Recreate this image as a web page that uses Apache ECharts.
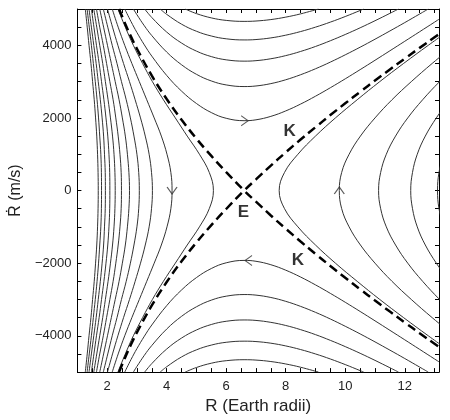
<!DOCTYPE html>
<html>
<head>
<meta charset="utf-8">
<script src="https://cdn.jsdelivr.net/npm/echarts@6/dist/echarts.min.js"></script>
<style>
  html, body { margin: 0; padding: 0; background: #fff; }
  #chart { width: 450px; height: 420px; }
</style>
</head>
<body>
<div id="chart"></div>
<script>
// Rdot levels (m/s) at which the side curves were read
var vLevels = [0, 500, 1000, 1500, 2000, 2500, 3000, 3500, 4000, 4500, 5000];

// curves left of E: R (Earth radii) at each vLevel, upper half (plot is mirror-symmetric in Rdot)
var leftCurves = [
  [5.57, 5.43, 5.10, 4.69, 4.29, 3.89, 3.52, 3.19, 2.88, 2.61, 2.36],
  [4.18, 4.14, 4.01, 3.82, 3.58, 3.33, 3.08, 2.83, 2.59, 2.37, 2.17],
  [3.52, 3.49, 3.41, 3.28, 3.12, 2.94, 2.75, 2.55, 2.36, 2.18, 2.01],
  [3.08, 3.06, 3.00, 2.90, 2.78, 2.64, 2.48, 2.33, 2.17, 2.02, 1.87],
  [2.75, 2.73, 2.68, 2.61, 2.51, 2.40, 2.27, 2.14, 2.01, 1.88, 1.75],
  [2.48, 2.47, 2.43, 2.37, 2.29, 2.20, 2.09, 1.98, 1.87, 1.75, 1.64],
  [2.27, 2.26, 2.23, 2.18, 2.11, 2.03, 1.94, 1.85, 1.75, 1.65, 1.55],
  [2.09, 2.085, 2.06, 2.02, 1.96, 1.89, 1.81, 1.73, 1.64, 1.555, 1.47],
  [1.94, 1.935, 1.91, 1.88, 1.83, 1.77, 1.70, 1.63, 1.55, 1.47, 1.39],
  [1.81, 1.806, 1.787, 1.75, 1.71, 1.66, 1.60, 1.535, 1.47, 1.398, 1.326],
  [1.70, 1.694, 1.677, 1.65, 1.61, 1.565, 1.51, 1.455, 1.39, 1.33, 1.265]
];

// curves right of E, same layout (runs past the right edge, gets clipped)
var rightCurves = [
  [7.78, 7.96, 8.41, 9.0, 9.67, 10.40, 11.16, 11.96, 12.79, 13.64],
  [9.8, 9.88, 10.13, 10.51, 11.0, 11.57, 12.22, 12.92, 13.66],
  [11.12, 11.19, 11.38, 11.69, 12.10, 12.60, 13.17, 13.8],
  [12.2, 12.26, 12.42, 12.69, 13.06, 13.5],
  [13.1, 13.15, 13.3]
];

// curves above E as [R, Rdot]; the ones below are their mirror
var topCurves = [
  [[2.59,5000],[2.8,4656],[3.0,4353],[3.25,4011],[3.5,3702],[4.0,3170],[4.5,2738],[5.0,2397],[5.5,2147],[6.0,1990],[6.6,1924],[7.0,1948],[7.5,2043],[8.0,2193],[8.5,2382],[9.0,2598],[9.5,2832],[10,3077],[10.5,3330],[11,3588],[11.5,3849],[12,4111],[12.5,4374],[13,4638],[13.15,4717]],
  [[2.88,5000],[3.0,4843],[3.25,4537],[3.5,4267],[4.0,3814],[4.5,3464],[5.0,3201],[5.5,3018],[6.0,2909],[6.6,2864],[7.0,2880],[7.5,2945],[8.0,3051],[8.5,3190],[9.0,3354],[9.5,3538],[10,3738],[10.5,3948],[11,4168],[11.5,4395],[12,4626],[12.5,4862],[12.79,5000]],
  [[3.26,5000],[3.5,4765],[4.0,4365],[4.5,4062],[5.0,3840],[5.5,3689],[6.0,3600],[6.6,3564],[7.0,3577],[7.5,3630],[8.0,3716],[8.5,3831],[9.0,3968],[9.5,4126],[10,4298],[10.5,4482],[11,4677],[11.5,4880],[11.79,5000]],
  [[3.78,5000],[4.0,4853],[4.5,4582],[5.0,4387],[5.5,4256],[6.0,4179],[6.6,4148],[7.0,4159],[7.5,4204],[8.0,4279],[8.5,4379],[9.0,4500],[9.5,4639],[10,4793],[10.5,4959],[10.62,5000]],
  [[4.62,5000],[5.0,4873],[5.5,4755],[6.0,4686],[6.6,4659],[7.0,4669],[7.5,4709],[8.0,4776],[8.5,4866],[9.1,5000]]
];

// separatrix K through E (top-left to bottom-right); the other K is its mirror
var separatrix = [[2.40,5000],[2.6,4602],[2.8,4240],[3.0,3905],[3.5,3163],[4.0,2520],[4.5,1948],[5.0,1430],[5.5,953],[6.0,508],[6.6,0],[7.0,-307],[7.5,-687],[8.0,-1052],[8.5,-1404],[9.0,-1745],[9.5,-2078],[10,-2402],[10.5,-2718],[11,-3029],[11.5,-3334],[12,-3633],[12.5,-3929],[13,-4220],[13.15,-4306]];

// flow arrows: [R, Rdot, rotation in degrees]
var arrows = [[6.62, 1924, 0], [6.75, -1926, 180], [4.18, 0, -90], [9.8, 0, 90]];

var labels = [
  { name: 'K', value: [8.13, 1620] },
  { name: 'K', value: [8.41, -1920] },
  { name: 'E', value: [6.58, -590] }
];

function sideCurve(rs) {
  var pts = [];
  for (var i = rs.length - 1; i > 0; i--) pts.push([rs[i], -vLevels[i]]);
  for (var j = 0; j < rs.length; j++) pts.push([rs[j], vLevels[j]]);
  return pts;
}
function mirror(pts) {
  return pts.map(function (p) { return [p[0], -p[1]]; });
}

var series = [];
function addCurve(pts) {
  series.push({
    type: 'line', data: pts, smooth: 0.4, symbol: 'none', silent: true,
    lineStyle: { color: '#333', width: 1 }
  });
}
leftCurves.forEach(function (c) { addCurve(sideCurve(c)); });
rightCurves.forEach(function (c) { addCurve(sideCurve(c)); });
topCurves.forEach(function (c) { addCurve(c); addCurve(mirror(c)); });

[separatrix, mirror(separatrix)].forEach(function (c) {
  series.push({
    type: 'line', data: c, smooth: 0.4, symbol: 'none', silent: true, z: 5,
    lineStyle: { color: '#000', width: 2.5, type: [9, 5] }
  });
});

series.push({
  type: 'scatter', data: arrows, silent: true, z: 6,
  symbol: 'path://M0,0L8,5L0,10',
  symbolSize: [7, 10],
  symbolRotate: function (v) { return v[2]; },
  itemStyle: { color: 'transparent', borderColor: '#333', borderWidth: 1 }
});

series.push({
  type: 'scatter', data: labels, silent: true, z: 7,
  symbolSize: 1,
  itemStyle: { color: 'transparent' },
  label: {
    show: true, position: 'inside', formatter: '{b}',
    fontFamily: 'Liberation Sans', fontWeight: 'bold', fontSize: 17, color: '#000'
  }
});

var tickStyle = { inside: true, length: 4, lineStyle: { color: '#000' } };
var lineStyle = { onZero: false, lineStyle: { color: '#000', width: 1 } };

var chart = echarts.init(document.getElementById('chart'));
chart.setOption({
  animation: false,
  grid: { left: 61, right: 11, top: 9, bottom: 34 },
  xAxis: [{
    type: 'value', min: 1, max: 13.15, interval: 0.5, position: 'bottom',
    axisLine: lineStyle, axisTick: tickStyle, splitLine: { show: false },
    axisLabel: {
      interval: 0, hideOverlap: false, showMinLabel: true,
      margin: 8, fontFamily: 'Liberation Sans', fontSize: 13, color: '#222',
      formatter: function (v) { return Math.abs(v % 2) < 1e-6 ? String(v) : ''; }
    },
    name: 'R (Earth radii)', nameLocation: 'middle', nameGap: 16,
    nameTextStyle: { fontFamily: 'Liberation Sans', fontSize: 17, color: '#222' }
  }, {
    type: 'value', min: 1, max: 13.15, interval: 0.5, position: 'top',
    axisLine: lineStyle, axisTick: tickStyle, axisLabel: { show: false }, splitLine: { show: false }
  }],
  yAxis: [{
    type: 'value', min: -5000, max: 5000, interval: 500, position: 'left',
    axisLine: lineStyle, axisTick: tickStyle, splitLine: { show: false },
    axisLabel: {
      interval: 0, hideOverlap: false,
      margin: 6, fontFamily: 'Liberation Sans', fontSize: 13, color: '#222',
      formatter: function (v) {
        if (v % 2000 !== 0) return '';
        return v < 0 ? '\u2212' + (-v) : String(v);
      }
    },
    name: '\u1E58 (m/s)', nameLocation: 'middle', nameGap: 38,
    nameTextStyle: { fontFamily: 'Liberation Sans', fontSize: 16, color: '#222' }
  }, {
    type: 'value', min: -5000, max: 5000, interval: 500, position: 'right',
    axisLine: lineStyle, axisTick: tickStyle, axisLabel: { show: false }, splitLine: { show: false }
  }],
  series: series
});
</script>
</body>
</html>
